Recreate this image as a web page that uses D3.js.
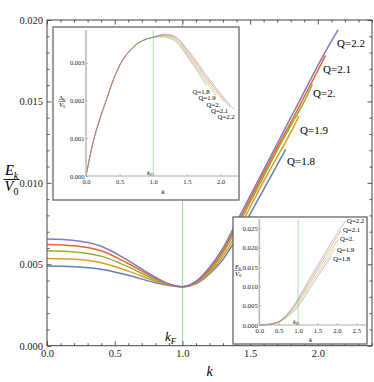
<!DOCTYPE html>
<html>
<head>
<meta charset="utf-8">
<script src="https://cdnjs.cloudflare.com/ajax/libs/d3/7.8.5/d3.min.js"></script>
<style>
  body { margin: 0; background: #fff; }
  svg text { font-family: "Liberation Serif", "Times New Roman", Times, "DejaVu Serif", serif; }
</style>
</head>
<body>
<div id="chart"></div>
<script>
// ---- data ----
const qLabels = ["Q=1.8", "Q=1.9", "Q=2.", "Q=2.1", "Q=2.2"]
const seriesColors = ["#5e81b5", "#e19c24", "#8fb032", "#eb6235", "#8778b3"]

// main panel: E_k / V0 vs k
const mainQ18 = [[0, .00489], [.2, .00485], [.4, .00470], [.6, .00432], [.8, .00387], [.9, .00370], [1.0, .00362],
  [1.1, .0038], [1.2, .0044], [1.3, .0053], [1.4, .0066], [1.5, .0081], [1.6, .0096], [1.7, .0111], [1.762, .01205]]
const mainQ19 = [[0, .00536], [.2, .00531], [.4, .00510], [.6, .00458], [.8, .00397], [.9, .00372], [1.0, .00362],
  [1.1, .00385], [1.2, .00448], [1.3, .0055], [1.4, .0069], [1.5, .0085], [1.6, .0101], [1.7, .0116], [1.8, .0131], [1.86, .0141]]
const mainQ20 = [[0, .00583], [.2, .00576], [.4, .00550], [.6, .00484], [.8, .00406], [.9, .00375], [1.0, .00362],
  [1.1, .0039], [1.2, .00458], [1.3, .0057], [1.4, .0072], [1.5, .0088], [1.6, .0104], [1.7, .0120], [1.8, .0135], [1.9, .0150], [1.96, .01605]]
const mainQ21 = [[0, .00622], [.2, .00614], [.4, .00583], [.6, .00505], [.8, .00414], [.9, .00378], [1.0, .00362],
  [1.1, .00393], [1.2, .0047], [1.3, .00585], [1.4, .0074], [1.5, .0090], [1.6, .0106], [1.7, .0122], [1.8, .0137], [1.9, .0153], [2.0, .0169], [2.057, .01783]]
const mainQ22 = [[0, .00655], [.2, .00646], [.4, .00611], [.6, .00523], [.8, .00421], [.9, .0038], [1.0, .00362],
  [1.1, .00395], [1.2, .0048], [1.3, .0060], [1.4, .0076], [1.5, .0092], [1.6, .0108], [1.7, .0124], [1.8, .0140], [1.9, .0156], [2.0, .0172], [2.1, .0187], [2.15, .0194]]
const mainSeries = [mainQ18, mainQ19, mainQ20, mainQ21, mainQ22]

const mainXTicks = [0, 0.5, 1, 1.5, 2]
const mainYTicks = [0, 0.005, 0.01, 0.015, 0.02]

// inset 1: Delta_k / V0 vs k
const deltaRise = [[0, 0], [.05, .00045], [.12, .001], [.2, .00148], [.3, .002], [.4, .00252], [.52, .003],
  [.65, .00332], [.8, .00355], [.9, .00363], [1.0, .00368]]
const deltaQ18 = deltaRise.concat([[1.15, .00369], [1.3, .00361], [1.55, .00306], [1.79, .0024]])
const deltaQ19 = deltaRise.concat([[1.15, .00371], [1.3, .00364], [1.55, .00311], [1.79, .00249], [1.94, .00213]])
const deltaQ20 = deltaRise.concat([[1.15, .00373], [1.3, .00367], [1.55, .00316], [1.79, .00255], [2.06, .00196]])
const deltaQ21 = deltaRise.concat([[1.16, .00374], [1.3, .00370], [1.55, .00321], [1.79, .00261], [2.04, .00205], [2.14, .00183]])
const deltaQ22 = deltaRise.concat([[1.17, .00376], [1.3, .00372], [1.55, .00326], [1.79, .00267], [2.04, .0021], [2.2, .00176]])
const deltaSeries = [deltaQ18, deltaQ19, deltaQ20, deltaQ21, deltaQ22]
const deltaXTicks = [0, 0.5, 1, 1.5, 2]
const deltaYTicks = [0, 0.001, 0.002, 0.003]

// inset 2: E_k / V0 vs k (other branch)
const ekQ18 = [[0, 0], [.25, .00015], [.5, .0007], [.75, .0023], [1.0, .0048], [1.25, .0086], [1.5, .0125], [1.75, .0162], [1.85, .0177]]
const ekQ19 = [[0, 0], [.25, .00016], [.5, .00075], [.75, .0026], [1.0, .0054], [1.25, .0094], [1.5, .0133], [1.75, .0170], [1.95, .0198]]
const ekQ20 = [[0, 0], [.25, .00018], [.5, .0008], [.75, .0028], [1.0, .0060], [1.25, .0100], [1.5, .0140], [1.75, .0179], [2.0, .0216], [2.04, .0222]]
const ekQ21 = [[0, 0], [.25, .00019], [.5, .00085], [.75, .0030], [1.0, .0064], [1.25, .0106], [1.5, .0147], [1.75, .0188], [2.0, .0227], [2.1, .0243]]
const ekQ22 = [[0, 0], [.25, .0002], [.5, .0009], [.75, .0032], [1.0, .0068], [1.25, .0112], [1.5, .0154], [1.75, .0196], [2.0, .0236], [2.225, .0269]]
const ekSeries = [ekQ18, ekQ19, ekQ20, ekQ21, ekQ22]
const ekXTicks = [0, 0.5, 1, 1.5, 2, 2.5]
const ekYTicks = [0, 0.005, 0.01, 0.015, 0.02, 0.025]

const kF = 1.0
const green = "#8fe38f"

const width = 374
const height = 382

const svg = d3.select("#chart")
  .append("svg")
    .attr("width", width)
    .attr("height", height)

// text with one subscript: base, sub
const subText = (g, x, y, base, sub, size, italicBase, italicSub, anchor) => {
  const t = g.append("text")
    .attr("x", x)
    .attr("y", y)
    .attr("font-size", size)
    .attr("text-anchor", anchor || "start")
  t.append("tspan").text(base).attr("font-style", italicBase ? "italic" : "normal")
  t.append("tspan").text(sub)
    .attr("font-size", size * 0.68)
    .attr("dy", size * 0.25)
    .attr("font-style", italicSub ? "italic" : "normal")
  return t
}

const fraction = (g, cx, yBar, top, bottom, size, barW) => {
  subText(g, cx, yBar - size * 0.28, top[0], top[1], size, top[2], true, "middle")
  g.append("line")
    .attr("x1", cx - barW / 2).attr("x2", cx + barW / 2)
    .attr("y1", yBar).attr("y2", yBar)
    .attr("stroke", "#000").attr("stroke-width", size / 16)
  subText(g, cx, yBar + size * 0.82, bottom[0], bottom[1], size, true, false, "middle")
}

const styleAxis = (g, fontSize) => {
  g.select(".domain").remove()
  g.selectAll("line").attr("stroke", "#555")
  g.selectAll("text").attr("font-size", fontSize).attr("fill", "#222")
  g.attr("font-family", null).attr("font-size", null)
}

// ---- main panel ----
const drawMain = () => {
  const x = d3.scaleLinear().domain([0, 2.4]).range([47, 372])
  const y = d3.scaleLinear().domain([0, 0.02]).range([345.7, 20])
  const g = svg.append("g")

  g.append("line")
    .attr("x1", x(kF)).attr("x2", x(kF))
    .attr("y1", y(0)).attr("y2", y(0.02))
    .attr("stroke", green).attr("stroke-width", 1)

  const line = d3.line()
    .x(d => x(d[0]))
    .y(d => y(d[1]))
    .curve(d3.curveMonotoneX)

  g.selectAll(".main-curve")
    .data(mainSeries)
    .join("path")
      .attr("class", "main-curve")
      .attr("d", d => line(d))
      .attr("fill", "none")
      .attr("stroke", (d, i) => seriesColors[i])
      .attr("stroke-width", 1.5)

  const xMinor = d3.range(0, 2.41, 0.1).filter(v => Math.abs(v * 2 - Math.round(v * 2)) > 1e-6)
  const yMinor = d3.range(0, 0.0201, 0.001).filter(v => Math.abs(v / 0.005 - Math.round(v / 0.005)) > 1e-6)

  const frame = [
    { axis: d3.axisBottom(x), t: `translate(0,${y(0)})`, major: mainXTicks, minor: xMinor, fmt: d3.format(".1f") },
    { axis: d3.axisTop(x), t: `translate(0,${y(0.02)})`, major: mainXTicks, minor: xMinor, fmt: () => "" },
    { axis: d3.axisLeft(y), t: `translate(${x(0)},0)`, major: mainYTicks, minor: yMinor, fmt: d3.format(".3f") },
    { axis: d3.axisRight(y), t: `translate(${x(2.4)},0)`, major: mainYTicks, minor: yMinor, fmt: () => "" }
  ]
  frame.forEach(f => {
    const gm = g.append("g").attr("transform", f.t)
      .call(f.axis.tickValues(f.major).tickFormat(f.fmt).tickSizeInner(-4.5).tickSizeOuter(0).tickPadding(4))
    styleAxis(gm, 10.5)
    const gn = g.append("g").attr("transform", f.t)
      .call(f.axis.tickValues(f.minor).tickFormat(() => "").tickSizeInner(-2.5).tickSizeOuter(0))
    styleAxis(gn, 10.5)
  })

  g.append("rect")
    .attr("x", x(0)).attr("y", y(0.02))
    .attr("width", x(2.4) - x(0)).attr("height", y(0) - y(0.02))
    .attr("fill", "none").attr("stroke", "#444").attr("stroke-width", 1)

  // axis labels
  g.append("text")
    .attr("x", 206.5).attr("y", 376)
    .attr("font-size", 14).attr("font-style", "italic")
    .text("k")
  subText(g, 165, 341, "k", "F", 13, true, true)
  fraction(g, 11.5, 179.5, ["E", "k", true], ["V", "0"], 14.5, 16)

  // curve labels
  const labelPos = [[287, 161], [300, 130], [313, 93], [323, 69], [337, 43]]
  g.selectAll(".main-label")
    .data(qLabels)
    .join("text")
      .attr("class", "main-label")
      .attr("x", (d, i) => labelPos[i][0])
      .attr("y", (d, i) => labelPos[i][1])
      .attr("dy", "0.35em")
      .attr("font-size", 11)
      .text(d => d)
}

// ---- inset ----
const drawInset = (opt) => {
  const g = svg.append("g")
  g.append("rect")
    .attr("x", opt.box[0]).attr("y", opt.box[1])
    .attr("width", opt.box[2]).attr("height", opt.box[3])
    .attr("fill", "#fff").attr("stroke", "#666").attr("stroke-width", 1.3)

  const x = d3.scaleLinear().domain(opt.xDomain).range(opt.xRange)
  const y = d3.scaleLinear().domain(opt.yDomain).range(opt.yRange)

  g.append("line")
    .attr("x1", x(kF)).attr("x2", x(kF))
    .attr("y1", y(0)).attr("y2", opt.yRange[1])
    .attr("stroke", green).attr("stroke-width", 0.8)

  const line = d3.line()
    .x(d => x(d[0]))
    .y(d => y(d[1]))
    .curve(d3.curveMonotoneX)

  g.selectAll(".inset-curve")
    .data(opt.series)
    .join("path")
      .attr("class", "inset-curve")
      .attr("d", d => line(d))
      .attr("fill", "none")
      .attr("stroke", (d, i) => seriesColors[i])
      .attr("stroke-opacity", 0.55)
      .attr("stroke-width", 0.9)

  const gx = g.append("g").attr("transform", `translate(0,${y(0)})`)
    .call(d3.axisBottom(x).tickValues(opt.xTicks).tickFormat(d3.format(".1f")).tickSizeInner(-2).tickSizeOuter(0).tickPadding(3))
  const gy = g.append("g").attr("transform", `translate(${x(0)},0)`)
    .call(d3.axisLeft(y).tickValues(opt.yTicks).tickFormat(d3.format(".3f")).tickSizeInner(-2).tickSizeOuter(0).tickPadding(1.5))
  ;[gx, gy].forEach(a => {
    styleAxis(a, opt.tickFont)
    a.selectAll("line").attr("stroke", "#999").attr("stroke-width", 0.7)
  })

  g.append("line")
    .attr("x1", opt.xRange[0]).attr("x2", opt.xRange[1])
    .attr("y1", y(0)).attr("y2", y(0))
    .attr("stroke", "#aaa").attr("stroke-width", 1)
  g.append("line")
    .attr("x1", x(0)).attr("x2", x(0))
    .attr("y1", y(0)).attr("y2", opt.yRange[1])
    .attr("stroke", "#bbb").attr("stroke-width", 1.6)

  g.append("text")
    .attr("x", opt.kPos[0]).attr("y", opt.kPos[1])
    .attr("font-size", 7).attr("font-style", "italic").attr("text-anchor", "middle")
    .text("k")
  subText(g, opt.kFPos[0], opt.kFPos[1], "k", "F", 6.5, true, true)
  fraction(g, opt.yLab[0], opt.yLab[1], opt.yLabTop, ["V", "0"], 6.5, 8)

  g.selectAll(".inset-label")
    .data(qLabels)
    .join("text")
      .attr("class", "inset-label")
      .attr("x", (d, i) => opt.labelPos[i][0])
      .attr("y", (d, i) => opt.labelPos[i][1])
      .attr("dy", "0.35em")
      .attr("font-size", 6.8)
      .text(d => d)
}

drawMain()

drawInset({
  box: [53, 27, 186, 173],
  xDomain: [0, 2.26], xRange: [86, 238],
  yDomain: [0, 0.00387], yRange: [176, 30],
  series: deltaSeries, xTicks: deltaXTicks, yTicks: deltaYTicks,
  tickFont: 6.5,
  kPos: [163, 194], kFPos: [147, 174.5],
  yLab: [62, 101.5], yLabTop: ["\u0394", "k", false],
  labelPos: [[192.5, 91.5], [198.5, 98], [206.5, 104.5], [211, 110.5], [217.5, 116.5]]
})

drawInset({
  box: [233, 217, 134, 127],
  xDomain: [0, 2.75], xRange: [259.3, 366],
  yDomain: [0, 0.0274], yRange: [325, 219],
  series: ekSeries, xTicks: ekXTicks, yTicks: ekYTicks,
  tickFont: 6.8,
  kPos: [310.5, 341.5], kFPos: [293, 323.5],
  yLab: [238, 270.5], yLabTop: ["E", "k", true],
  labelPos: [[333, 259], [337, 250], [340, 239], [343, 230], [347, 221]]
})
</script>
</body>
</html>
